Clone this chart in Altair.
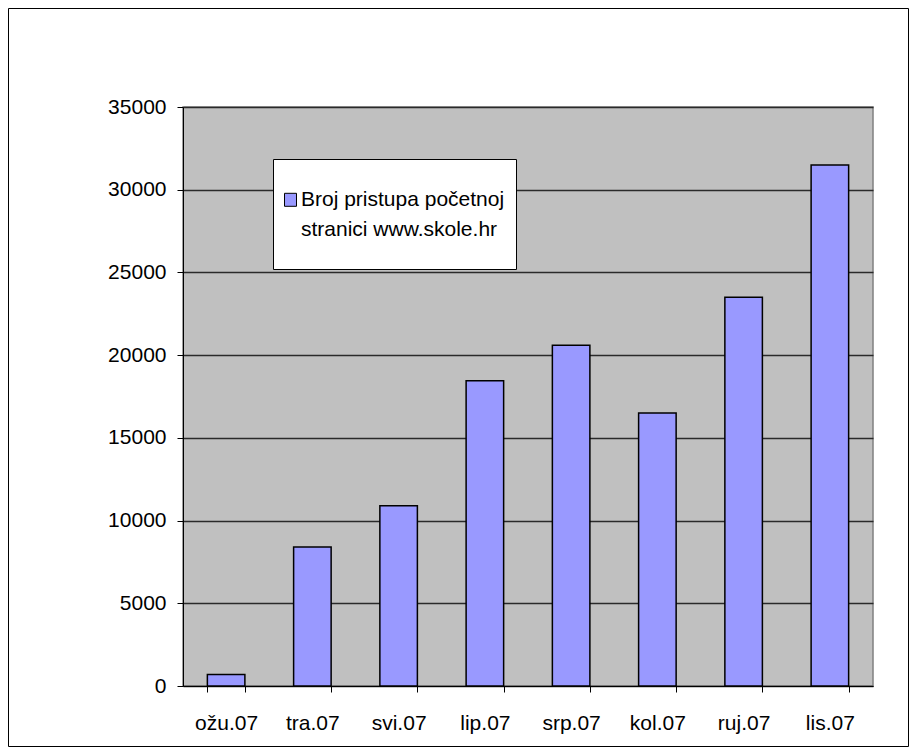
import altair as alt
import pandas as pd

months = ["ožu.07", "tra.07", "svi.07", "lip.07", "srp.07", "kol.07", "ruj.07", "lis.07"]
visits = [700, 8400, 10900, 18450, 20600, 16500, 23500, 31500]
series_name = "Broj pristupa početnoj stranici www.skole.hr"
legend_lines = ["Broj pristupa početnoj", "stranici www.skole.hr"]
y_ticks = [0, 5000, 10000, 15000, 20000, 25000, 30000, 35000]

FONT = "Liberation Sans"

df = pd.DataFrame({"month": months, "visits": visits, "series": [series_name] * len(months)})

label_expr = "[" + ", ".join("'" + s + "'" for s in legend_lines) + "]"

# square legend swatch sitting on the first text line; the trailing move-to
# only extends the legend box downwards (draws nothing)
legend_symbol = "M-1,-2.167H1V0H-1Z M0,8.2"

bars = alt.Chart(df).mark_bar(stroke="black", strokeWidth=1.5).encode(
    x=alt.X(
        "month:N",
        sort=months,
        scale=alt.Scale(paddingInner=0.565, paddingOuter=0.2825),
        axis=alt.Axis(
            title=None, labelAngle=0, tickBand="extent", domainColor="black",
            tickColor="black", tickSize=6, tickWidth=1, labelFont=FONT, labelFontSize=21,
            labelColor="black", labelPadding=20, grid=False,
        ),
    ),
    y=alt.Y(
        "visits:Q",
        scale=alt.Scale(domain=[0, 35000], nice=False),
        axis=alt.Axis(
            title=None, values=y_ticks, format="d", domainColor="black",
            tickColor="black", tickSize=6, labelFont=FONT, labelFontSize=21,
            labelColor="black", labelPadding=11, grid=True, gridColor="#2a2a2a",
            gridWidth=1.5, gridOpacity=1,
        ),
    ),
    color=alt.Color(
        "series:N",
        scale=alt.Scale(range=["#9999FF"]),
        legend=alt.Legend(
            title="\u00a0", titleFontSize=8.8, titlePadding=17,
            orient="none", legendX=90, legendY=52,
            fillColor="white", strokeColor="black", padding=11,
            symbolType=legend_symbol, symbolSize=144,
            symbolStrokeColor="black", symbolStrokeWidth=1,
            symbolFillColor="#9999FF", symbolOffset=-4,
            labelFont=FONT, labelFontSize=21, labelColor="black",
            labelLimit=500, labelOffset=0, labelBaseline="alphabetic",
            labelExpr=label_expr,
        ),
    ),
)

frame_df = pd.DataFrame({"k": [0]})
frame = alt.Chart(frame_df).mark_rect(fillOpacity=0, stroke="black", strokeWidth=1).encode(
    x=alt.value(-174.5), x2=alt.value(725.5), y=alt.value(-98.5), y2=alt.value(639.5)
)

chart = alt.layer(bars, frame).properties(
    width=690, height=579,
    padding={"left": 175, "top": 99, "right": 36, "bottom": 61},
    autosize=alt.AutoSizeParams(type="none"),
).configure(
    background="white",
    style={"guide-label": {"lineHeight": 30}},
).configure_view(
    fill="#C0C0C0", stroke="#808080", strokeWidth=1.5
)

chart.save("out.html", embed_options={"renderer": "svg", "actions": False})
